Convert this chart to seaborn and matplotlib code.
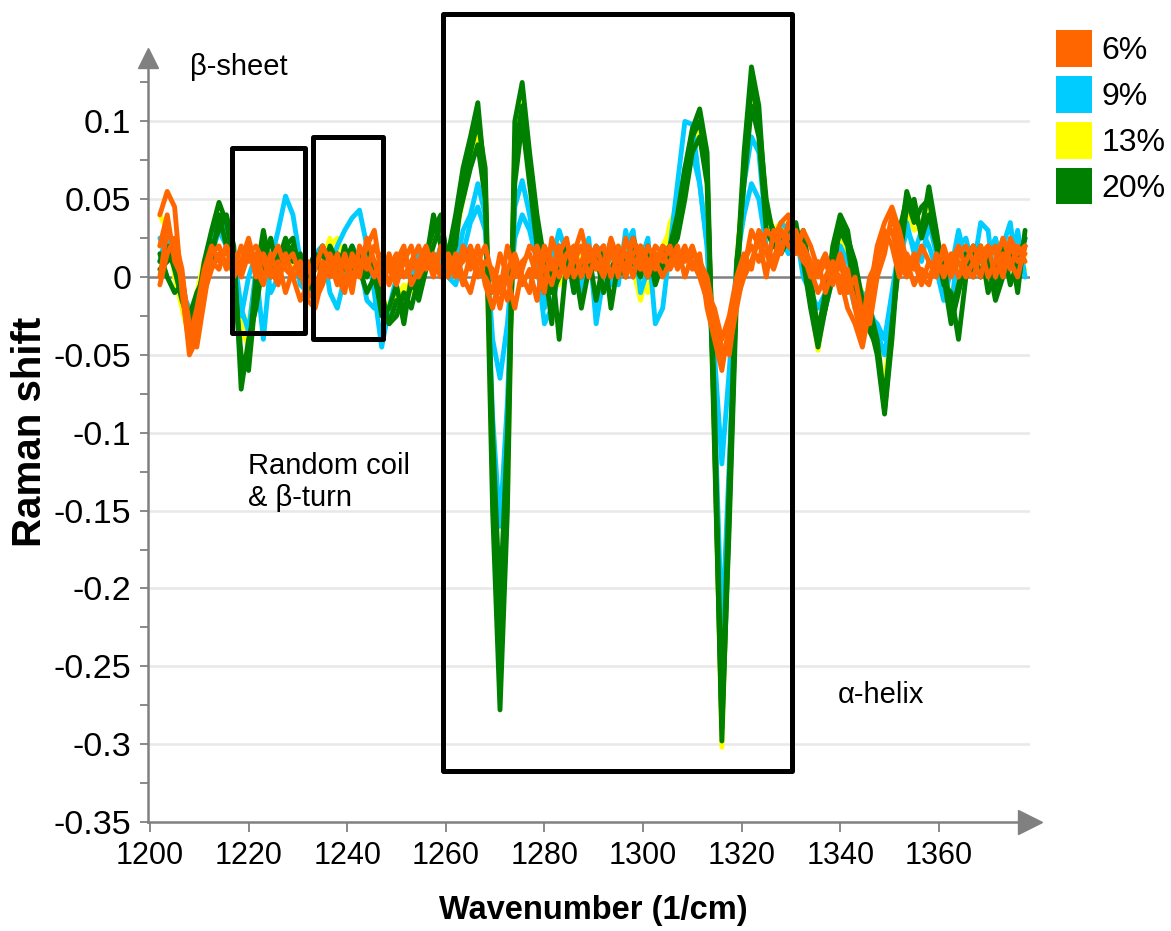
import matplotlib
matplotlib.use("Agg")
import matplotlib.pyplot as plt
import seaborn as sns
import pandas as pd
from matplotlib.patches import Rectangle, Patch
from matplotlib.ticker import MultipleLocator, FuncFormatter, FixedLocator

# ---------------- data ----------------
wavenumbers = [
    1202, 1203.5, 1205, 1206.5, 1208, 1209.5, 1211, 1212.5, 1214, 1215.5,
    1217, 1218.5, 1220, 1221.5, 1223, 1224.5, 1226, 1227.5, 1229, 1230.5,
    1232, 1233.5, 1235, 1236.5, 1238, 1239.5, 1241, 1242.5, 1244, 1245.5,
    1247, 1248.5, 1250, 1251.5, 1253, 1254.5, 1256, 1257.5, 1259, 1260.5,
    1262, 1263.5, 1265, 1266.5, 1268, 1269.5, 1271, 1272.5, 1274, 1275.5,
    1277, 1278.5, 1280, 1281.5, 1283, 1284.5, 1286, 1287.5, 1289, 1290.5,
    1292, 1293.5, 1295, 1296.5, 1298, 1299.5, 1301, 1302.5, 1304, 1305.5,
    1307, 1308.5, 1310, 1311.5, 1313, 1314.5, 1316, 1317.5, 1319, 1320.5,
    1322, 1323.5, 1325, 1326.5, 1328, 1329.5, 1331, 1332.5, 1334, 1335.5,
    1337, 1338.5, 1340, 1341.5, 1343, 1344.5, 1346, 1347.5, 1349, 1350.5,
    1352, 1353.5, 1355, 1356.5, 1358, 1359.5, 1361, 1362.5, 1364, 1365.5,
    1367, 1368.5, 1370, 1371.5, 1373, 1374.5, 1376, 1377.5]

conc_20_a = [
    0.010, 0.020, 0.005, -0.015, -0.030, -0.020, 0.010, 0.030, 0.048, 0.035,
    0.010, -0.060, -0.050, 0.000, 0.030, 0.005, 0.015, 0.010, 0.020, 0.005,
    -0.010, 0.010, 0.015, 0.005, 0.015, 0.010, 0.020, 0.005, -0.010, 0.000,
    -0.020, -0.030, -0.015, -0.020, -0.005, -0.010, 0.010, 0.040, 0.020, 0.015,
    0.040, 0.070, 0.090, 0.112, 0.060, -0.150, -0.278, -0.150, 0.100, 0.125,
    0.080, 0.040, 0.010, -0.030, 0.020, 0.000, 0.010, -0.020, 0.005, 0.015,
    -0.010, 0.005, 0.015, 0.005, 0.020, 0.005, 0.010, 0.000, 0.015, 0.020,
    0.040, 0.070, 0.095, 0.108, 0.080, -0.100, -0.298, -0.150, 0.000, 0.080,
    0.135, 0.110, 0.040, 0.030, 0.025, 0.030, 0.035, 0.010, -0.020, -0.045,
    -0.020, 0.020, 0.040, 0.030, 0.000, -0.020, -0.030, -0.050, -0.088, -0.040,
    0.020, 0.055, 0.040, 0.030, 0.058, 0.030, 0.000, -0.030, -0.010, 0.010,
    0.020, 0.000, 0.015, -0.010, 0.010, 0.020, -0.010, 0.030]
conc_20_b = [
    0.005, 0.010, 0.015, -0.010, -0.025, -0.010, 0.000, 0.020, 0.030, 0.040,
    0.020, -0.072, -0.040, -0.020, 0.010, 0.025, 0.000, 0.020, 0.025, 0.000,
    0.005, 0.015, 0.000, 0.020, 0.010, 0.005, 0.015, 0.010, 0.020, 0.005,
    -0.025, -0.020, -0.005, -0.030, 0.000, -0.015, 0.005, 0.020, 0.035, 0.010,
    0.030, 0.050, 0.070, 0.085, 0.050, -0.100, -0.210, -0.100, 0.060, 0.100,
    0.060, 0.020, -0.010, 0.010, -0.040, 0.010, 0.015, 0.000, 0.015, -0.015,
    0.010, 0.020, 0.000, 0.015, 0.010, 0.000, 0.020, -0.005, 0.010, 0.015,
    0.025, 0.050, 0.080, 0.090, 0.060, -0.080, -0.285, -0.130, 0.010, 0.060,
    0.110, 0.090, 0.030, 0.020, 0.015, 0.025, 0.020, 0.030, 0.000, -0.035,
    -0.010, 0.010, 0.030, 0.020, -0.010, -0.030, -0.020, -0.040, -0.080, -0.030,
    0.010, 0.045, 0.050, 0.025, 0.040, 0.020, -0.005, -0.010, -0.040, 0.000,
    0.010, 0.020, -0.010, 0.005, 0.020, -0.005, 0.010, 0.025]
conc_20_c = [
    0.015, 0.000, -0.010, -0.005, -0.030, -0.015, 0.005, 0.010, 0.040, 0.020,
    0.000, -0.050, -0.060, -0.010, 0.020, 0.000, 0.010, 0.025, 0.010, 0.015,
    0.000, 0.005, 0.020, 0.010, 0.000, 0.020, 0.000, 0.015, 0.000, 0.010,
    -0.010, -0.030, -0.025, -0.010, -0.020, 0.000, 0.015, 0.030, 0.040, 0.005,
    0.020, 0.060, 0.080, 0.100, 0.070, -0.120, -0.250, -0.120, 0.080, 0.110,
    0.070, 0.030, 0.000, -0.010, 0.000, 0.020, -0.010, 0.010, 0.000, 0.010,
    0.020, -0.020, 0.010, 0.000, 0.025, 0.010, 0.000, 0.015, 0.005, 0.010,
    0.030, 0.060, 0.090, 0.100, 0.070, -0.110, -0.290, -0.160, -0.010, 0.070,
    0.125, 0.100, 0.050, 0.025, 0.030, 0.020, 0.030, 0.020, -0.010, -0.040,
    -0.020, 0.000, 0.035, 0.025, 0.010, -0.015, -0.035, -0.045, -0.085, -0.035,
    0.030, 0.050, 0.035, 0.045, 0.050, 0.025, 0.010, -0.025, -0.005, 0.015,
    0.000, 0.015, 0.010, -0.015, 0.000, 0.015, 0.005, 0.020]

conc_13_a = [
    0.040, 0.030, 0.010, -0.010, -0.035, -0.020, 0.005, 0.025, 0.040, 0.030,
    0.010, -0.040, -0.030, 0.000, 0.020, 0.010, 0.015, 0.005, 0.020, 0.010,
    -0.005, 0.010, 0.015, 0.020, 0.025, 0.010, 0.015, 0.005, 0.000, 0.010,
    -0.015, -0.020, -0.010, -0.015, 0.000, -0.005, 0.010, 0.030, 0.025, 0.015,
    0.030, 0.060, 0.080, 0.095, 0.050, -0.130, -0.250, -0.140, 0.090, 0.115,
    0.070, 0.030, 0.005, -0.010, 0.010, 0.005, 0.020, -0.010, 0.010, 0.005,
    0.015, 0.000, 0.020, 0.010, 0.015, 0.005, -0.010, 0.010, 0.020, 0.030,
    0.050, 0.065, 0.085, 0.095, 0.060, -0.100, -0.302, -0.140, 0.000, 0.075,
    0.120, 0.100, 0.045, 0.030, 0.035, 0.025, 0.030, 0.015, -0.015, -0.047,
    -0.015, 0.005, 0.030, 0.020, 0.005, -0.020, -0.030, -0.040, -0.075, -0.030,
    0.015, 0.045, 0.030, 0.035, 0.045, 0.020, 0.000, -0.020, 0.000, 0.010,
    0.015, 0.005, 0.020, 0.000, 0.010, 0.020, 0.000, 0.015]
conc_13_b = [
    0.020, 0.035, 0.000, -0.020, -0.040, -0.010, 0.010, 0.015, 0.030, 0.025,
    0.000, -0.030, -0.045, -0.005, 0.015, 0.000, 0.020, 0.010, 0.010, 0.000,
    0.005, 0.015, 0.010, 0.025, 0.005, 0.015, 0.010, 0.000, 0.010, 0.005,
    -0.010, -0.025, -0.015, -0.005, -0.010, 0.005, 0.015, 0.025, 0.030, 0.010,
    0.025, 0.050, 0.075, 0.090, 0.060, -0.110, -0.240, -0.110, 0.070, 0.105,
    0.065, 0.025, 0.000, 0.015, -0.005, 0.010, 0.005, 0.015, 0.000, 0.010,
    0.005, 0.015, 0.005, 0.020, 0.005, -0.015, 0.005, 0.015, 0.010, 0.035,
    0.045, 0.060, 0.080, 0.090, 0.065, -0.090, -0.290, -0.130, 0.010, 0.065,
    0.115, 0.095, 0.040, 0.025, 0.030, 0.035, 0.025, 0.020, -0.010, -0.040,
    -0.010, 0.010, 0.025, 0.015, 0.000, -0.010, -0.025, -0.045, -0.070, -0.025,
    0.020, 0.040, 0.040, 0.030, 0.050, 0.015, 0.005, -0.015, 0.005, 0.005,
    0.010, 0.020, 0.005, 0.010, 0.000, 0.015, 0.010, 0.005]

conc_9_a = [
    0.025, 0.015, 0.010, 0.000, -0.030, -0.025, 0.000, 0.020, 0.040, 0.030,
    0.015, -0.020, -0.035, 0.005, -0.040, 0.010, 0.030, 0.052, 0.040, 0.010,
    0.000, 0.010, 0.015, 0.005, 0.020, 0.030, 0.038, 0.043, 0.020, -0.010,
    -0.045, -0.020, 0.000, 0.010, 0.005, 0.015, 0.010, 0.005, 0.020, 0.000,
    0.005, 0.030, 0.040, 0.060, 0.040, -0.090, -0.160, -0.080, 0.045, 0.062,
    0.040, 0.010, -0.020, 0.010, 0.030, 0.015, -0.010, 0.000, 0.025, -0.030,
    0.000, 0.020, -0.005, 0.030, 0.000, 0.010, 0.025, -0.030, -0.020, 0.020,
    0.060, 0.100, 0.098, 0.060, 0.020, -0.080, -0.230, -0.120, 0.000, 0.060,
    0.090, 0.080, 0.030, 0.020, 0.035, 0.030, 0.020, 0.010, -0.015, -0.030,
    -0.020, 0.000, 0.020, 0.010, 0.000, -0.030, -0.020, -0.035, -0.050, -0.020,
    0.010, 0.030, 0.020, 0.010, 0.035, 0.015, 0.000, -0.020, 0.020, 0.025,
    0.005, 0.035, 0.030, -0.010, 0.020, 0.035, 0.000, 0.025]
conc_9_b = [
    0.010, 0.030, 0.005, -0.010, -0.020, -0.030, 0.005, 0.015, 0.030, 0.020,
    0.005, -0.025, 0.000, 0.015, 0.020, -0.010, 0.000, 0.015, 0.020, -0.005,
    -0.010, 0.015, 0.020, -0.010, -0.020, 0.000, 0.020, 0.010, -0.015, -0.020,
    0.000, 0.010, 0.005, 0.015, 0.000, 0.010, 0.005, 0.015, 0.010, 0.000,
    -0.005, 0.015, 0.035, 0.045, 0.030, -0.040, -0.065, -0.030, 0.025, 0.040,
    0.030, 0.010, -0.030, -0.020, 0.005, 0.020, 0.015, -0.010, 0.010, 0.020,
    0.015, -0.005, 0.010, 0.020, 0.030, -0.010, 0.005, 0.015, 0.010, 0.020,
    0.040, 0.070, 0.080, 0.060, 0.020, -0.050, -0.120, -0.060, 0.010, 0.040,
    0.060, 0.050, 0.020, 0.010, 0.025, 0.015, 0.030, 0.000, -0.010, -0.020,
    -0.010, 0.010, 0.015, 0.000, -0.020, -0.010, -0.025, -0.030, -0.040, -0.010,
    0.020, 0.035, 0.015, 0.030, 0.020, 0.005, -0.015, 0.005, 0.030, 0.010,
    0.020, 0.000, 0.015, 0.025, 0.005, 0.010, 0.030, 0.000]

conc_6_a = [
    0.040, 0.055, 0.045, -0.010, -0.045, -0.030, 0.000, 0.010, 0.005, 0.020,
    0.010, 0.000, 0.015, 0.020, 0.010, 0.000, 0.010, -0.010, 0.005, 0.010,
    -0.010, -0.015, -0.005, 0.010, 0.000, -0.010, 0.015, 0.005, 0.020, 0.030,
    0.000, 0.005, 0.015, 0.000, 0.010, 0.020, 0.005, 0.010, 0.000, 0.015,
    0.005, 0.010, 0.020, 0.005, 0.000, -0.010, 0.015, 0.000, -0.020, 0.005,
    0.020, 0.015, -0.010, 0.025, 0.010, 0.000, 0.015, 0.030, 0.010, 0.020,
    0.005, 0.025, 0.010, 0.015, 0.000, 0.020, 0.010, 0.005, 0.020, 0.015,
    0.010, 0.020, 0.005, 0.015, -0.020, -0.040, -0.060, -0.030, -0.010, 0.010,
    0.020, 0.010, 0.030, 0.025, 0.035, 0.040, 0.020, 0.010, 0.005, -0.010,
    0.000, 0.010, -0.010, 0.005, -0.020, -0.040, -0.010, 0.020, 0.035, 0.045,
    0.030, 0.010, -0.005, 0.005, 0.000, 0.010, 0.005, 0.015, 0.000, 0.010,
    0.020, 0.010, 0.015, 0.020, 0.005, 0.025, 0.015, 0.020]
conc_6_b = [
    0.000, 0.030, 0.020, -0.005, -0.050, -0.040, -0.010, 0.005, 0.015, 0.010,
    0.005, 0.020, 0.010, 0.015, 0.000, 0.010, 0.020, 0.005, 0.000, -0.015,
    -0.005, 0.005, 0.020, 0.010, -0.005, 0.015, 0.000, 0.010, 0.005, 0.020,
    0.010, -0.005, 0.010, 0.020, -0.005, 0.005, 0.015, 0.000, 0.020, 0.010,
    0.000, 0.020, 0.005, 0.020, -0.005, -0.020, 0.000, -0.015, 0.010, -0.005,
    0.005, -0.015, 0.015, 0.005, 0.020, 0.000, 0.010, 0.020, 0.000, 0.015,
    0.020, 0.000, 0.015, 0.005, 0.025, 0.010, 0.000, 0.015, 0.010, 0.020,
    0.005, 0.015, 0.010, 0.000, -0.015, -0.030, -0.050, -0.045, -0.020, 0.005,
    0.030, 0.020, 0.015, 0.005, 0.020, 0.025, 0.030, 0.015, 0.000, 0.010,
    -0.010, 0.005, 0.000, -0.020, -0.030, -0.045, -0.020, 0.010, 0.025, 0.030,
    0.010, 0.000, 0.010, -0.005, 0.010, 0.000, 0.020, 0.005, 0.010, 0.000,
    0.010, 0.020, 0.000, 0.010, 0.025, 0.010, 0.000, 0.020]
conc_6_c = [
    0.020, 0.040, 0.010, 0.000, -0.030, -0.045, -0.015, 0.015, 0.020, 0.005,
    0.015, 0.005, 0.020, 0.000, 0.015, 0.005, -0.005, 0.015, 0.000, 0.005,
    -0.015, -0.020, 0.000, 0.015, 0.005, 0.010, -0.010, 0.020, 0.010, 0.000,
    0.015, 0.005, -0.005, 0.010, 0.020, 0.000, 0.010, 0.015, 0.005, 0.000,
    0.015, 0.000, -0.010, 0.010, 0.020, 0.000, -0.020, 0.005, 0.015, 0.000,
    -0.010, 0.020, 0.005, -0.005, 0.015, 0.025, 0.000, 0.010, 0.020, 0.005,
    0.010, 0.020, 0.000, 0.025, 0.010, 0.005, 0.020, 0.010, 0.000, 0.010,
    0.020, 0.000, 0.015, 0.010, 0.000, -0.025, -0.045, -0.050, -0.015, 0.000,
    0.010, 0.025, 0.000, 0.030, 0.015, 0.035, 0.025, 0.020, 0.010, 0.000,
    0.010, -0.005, 0.010, -0.010, 0.000, -0.025, -0.030, 0.000, 0.015, 0.040,
    0.020, 0.005, 0.015, 0.000, -0.005, 0.015, 0.000, 0.010, 0.020, 0.005,
    0.000, 0.015, 0.020, 0.000, 0.015, 0.005, 0.020, 0.010]
conc_6_d = [
    -0.005, 0.015, 0.025, 0.005, -0.040, -0.020, 0.005, 0.020, 0.010, 0.020,
    0.000, 0.010, 0.025, 0.005, -0.005, 0.015, 0.000, 0.010, 0.015, 0.000,
    0.010, -0.010, 0.010, 0.000, 0.015, -0.005, 0.010, 0.000, 0.025, 0.010,
    -0.005, 0.015, 0.000, 0.015, 0.005, 0.010, 0.020, 0.005, 0.015, 0.005,
    0.010, -0.005, 0.015, 0.000, 0.010, 0.005, -0.010, 0.020, 0.000, 0.010,
    0.015, 0.000, 0.020, 0.010, 0.000, 0.015, 0.020, 0.000, 0.015, 0.010,
    0.000, 0.015, 0.020, 0.000, 0.015, 0.020, 0.005, 0.020, 0.015, 0.005,
    0.015, 0.010, 0.020, 0.005, -0.010, -0.020, -0.040, -0.025, 0.000, 0.015,
    0.005, 0.030, 0.020, 0.010, 0.030, 0.020, 0.015, 0.030, 0.020, 0.005,
    0.015, 0.000, 0.015, 0.000, -0.015, -0.030, 0.000, 0.010, 0.030, 0.020,
    0.000, 0.015, 0.005, 0.020, 0.010, 0.005, 0.015, 0.000, 0.015, 0.020,
    0.010, 0.000, 0.020, 0.015, 0.000, 0.020, 0.010, 0.015]

concentrations = ["6%", "9%", "13%", "20%"]
conc_colors = ["#FF6600", "#00CCFF", "#FFFF00", "#008000"]
draw_order = ["13%", "9%", "20%", "6%"]

y_tick_values = [0.1, 0.05, 0, -0.05, -0.1, -0.15, -0.2, -0.25, -0.3, -0.35]
x_tick_values = [1200, 1220, 1240, 1260, 1280, 1300, 1320, 1340, 1360]

# ---------------- long-form table ----------------
series = {
    "20%": [conc_20_a, conc_20_b, conc_20_c],
    "13%": [conc_13_a, conc_13_b],
    "9%": [conc_9_a, conc_9_b],
    "6%": [conc_6_a, conc_6_b, conc_6_c, conc_6_d],
}
rows = []
for conc, reps in series.items():
    for r, vals in enumerate(reps):
        n = min(len(vals), len(wavenumbers))
        for i in range(n):
            rows.append((wavenumbers[i], vals[i], conc, f"{conc}_{r}"))
df = pd.DataFrame(rows, columns=["wavenumber", "shift", "conc", "rep"])

# ---------------- style ----------------
sns.set_style("white")
plt.rcParams["font.family"] = ["Liberation Sans", "DejaVu Sans"]
plt.rcParams["axes.unicode_minus"] = False
plt.rcParams["text.color"] = "black"
plt.rcParams["xtick.labelcolor"] = "black"
plt.rcParams["ytick.labelcolor"] = "black"

W, H = 1171, 931
fig = plt.figure(figsize=(W / 100, H / 100), dpi=100)
L, R, T, B = 148, 1030, 58, 822
ax = fig.add_axes([L / W, 1 - B / H, (R - L) / W, (B - T) / H])

palette = dict(zip(concentrations, conc_colors))
sns.lineplot(data=df, x="wavenumber", y="shift", hue="conc", units="rep",
             estimator=None, hue_order=draw_order, palette=palette,
             linewidth=3.5, legend=False, sort=False, ax=ax, zorder=3)

ax.set_xlim(1199.6, 1378.5)
ax.set_ylim(-0.35, 0.1407)

# grid
for yv in y_tick_values:
    if yv not in (0, -0.35):
        ax.axhline(yv, color="#E8E8E8", lw=1.8, zorder=0)
ax.axhline(0, color="#808080", lw=1.8, zorder=1)

# spines & arrows
for s in ["top", "right"]:
    ax.spines[s].set_visible(False)
for s in ["left", "bottom"]:
    ax.spines[s].set_color("#808080")
    ax.spines[s].set_linewidth(1.8)
ax.plot([0], [1], marker="^", markersize=15, color="#808080",
        transform=ax.transAxes, clip_on=False, zorder=5)
ax.plot([1], [0], marker=">", markersize=17, color="#808080",
        transform=ax.transAxes, clip_on=False, zorder=5)

# ticks
ax.yaxis.set_major_locator(FixedLocator(y_tick_values))
ax.yaxis.set_minor_locator(MultipleLocator(0.025))
ax.yaxis.set_major_formatter(FuncFormatter(lambda v, p: f"{v:g}"))
ax.xaxis.set_major_locator(FixedLocator(x_tick_values))
ax.tick_params(axis="y", which="both", direction="out", length=6, width=1.3,
               color="#808080", left=True, pad=6, labelsize=24.5,
               labelcolor="black")
ax.tick_params(axis="x", which="major", direction="out", length=7, width=1.3,
               color="#808080", bottom=True, pad=7, labelsize=22,
               labelcolor="black")
ax.set_xlabel("")
ax.set_ylabel("")

# boxes
box_specs = [((1216.6, -0.036), 14.8, 0.119),
             ((1233.1, -0.040), 14.2, 0.130),
             ((1259.4, -0.317), 70.8, 0.486)]
for (x0, y0), w, h in box_specs:
    ax.add_patch(Rectangle((x0, y0), w, h, fill=False, edgecolor="black",
                           lw=3.6, joinstyle="round", clip_on=False, zorder=6))

# annotations
ax.text(1208.1, 0.1349, "β-sheet", fontsize=21, va="center", ha="left",
        color="black")
ax.text(1219.9, -0.1317, "Random coil\n& β-turn", fontsize=21, va="center",
        ha="left", linespacing=1.15, color="black")
ax.text(1339.6, -0.2685, "α-helix", fontsize=21, va="center", ha="left",
        color="black")

# axis titles
fig.text(30 / W, 1 - 432 / H, "Raman shift", rotation=90, fontsize=29,
         fontweight="bold", ha="center", va="center", color="black")
fig.text(593 / W, 1 - 910 / H, "Wavenumber (1/cm)", fontsize=23.5,
         fontweight="bold", ha="center", va="center", color="black")

# legend
handles = [Patch(facecolor=c, edgecolor="none", label=l)
           for l, c in zip(concentrations, conc_colors)]
leg = fig.legend(handles=handles, loc="upper left",
                 bbox_to_anchor=(1056 / W, 1 - 30 / H), frameon=False,
                 fontsize=23, handlelength=1.12, handleheight=1.4,
                 labelspacing=0.28, handletextpad=0.3, borderpad=0,
                 borderaxespad=0)
for t in leg.get_texts():
    t.set_color("black")

fig.savefig("out.png", dpi=100)
